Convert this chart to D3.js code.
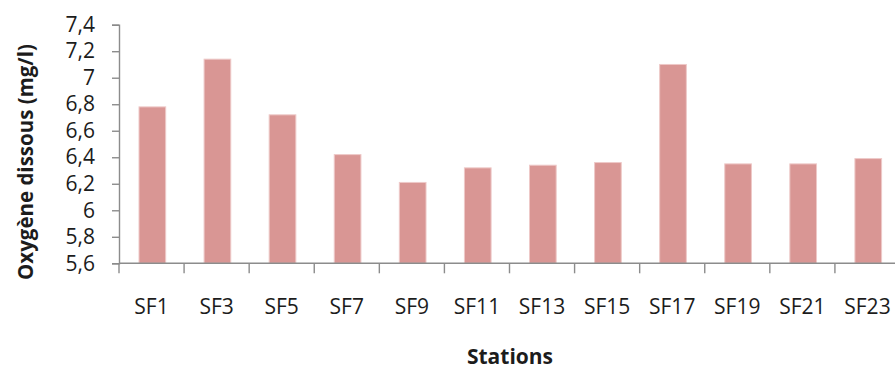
<!DOCTYPE html>
<html>
<head>
<meta charset="utf-8">
<script src="https://cdn.jsdelivr.net/npm/d3@7"></script>
<style>
  html, body { margin: 0; padding: 0; background: #fff; }
  svg { display: block; }
  text { font-family: "Open Sans", "Noto Sans", sans-serif; fill: #1c1c1c; }
</style>
</head>
<body>
<svg id="chart" width="895" height="369"></svg>
<script>
// Dissolved oxygen per station (mg/l)
const stations = ["SF1", "SF3", "SF5", "SF7", "SF9", "SF11", "SF13", "SF15", "SF17", "SF19", "SF21", "SF23"];
const oxygen = [6.78, 7.14, 6.72, 6.42, 6.21, 6.32, 6.34, 6.36, 7.10, 6.35, 6.35, 6.39];
const yTicks = [5.6, 5.8, 6.0, 6.2, 6.4, 6.6, 6.8, 7.0, 7.2, 7.4];
const yTitle = "Oxygène dissous (mg/l)";
const xTitle = "Stations";

const svg = d3.select("#chart");
const plot = { left: 119, right: 900, top: 24.7, bottom: 263.3 };

const x = d3.scaleBand().domain(stations).range([plot.left, plot.right]).padding(0);
const y = d3.scaleLinear().domain([5.6, 7.4]).range([plot.bottom, plot.top]);

const fr = d3.formatLocale({ decimal: ",", thousands: " ", grouping: [3], currency: ["", " €"] });
const fmt = fr.format(".1~f");

// Bars
const barFrac = 0.41;
svg.append("g").selectAll("rect")
  .data(stations.map((s, i) => ({ s, v: oxygen[i] })))
  .join("rect")
  .attr("x", d => x(d.s) + x.bandwidth() * (1 - barFrac) / 2 + 0.8)
  .attr("width", x.bandwidth() * barFrac)
  .attr("y", d => y(d.v))
  .attr("height", d => y(5.6) - y(d.v))
  .attr("fill", "#d99694")
  .attr("stroke", "#eec9c8")
  .attr("stroke-width", 1);

// Y axis
const yAxis = svg.append("g")
  .attr("transform", `translate(${plot.left},0)`)
  .call(d3.axisLeft(y).tickValues(yTicks).tickFormat(fmt).tickSize(7).tickPadding(17));
yAxis.select(".domain").attr("stroke", "#8c8c8c").attr("stroke-width", 1.4);
yAxis.selectAll(".tick line").attr("stroke", "#8c8c8c").attr("stroke-width", 1.4);
yAxis.selectAll(".tick text").attr("font-size", 21).attr("fill", "#1c1c1c")
  .attr("font-family", "Open Sans");

// X axis with ticks at category boundaries
const xAxisG = svg.append("g").attr("transform", `translate(0,${plot.bottom})`);
xAxisG.append("line")
  .attr("x1", plot.left).attr("x2", plot.right)
  .attr("stroke", "#8c8c8c").attr("stroke-width", 1.4);
xAxisG.selectAll("line.bound")
  .data(stations)
  .join("line")
  .attr("class", "bound")
  .attr("x1", d => x(d)).attr("x2", d => x(d))
  .attr("y1", 0).attr("y2", 10)
  .attr("stroke", "#8c8c8c").attr("stroke-width", 1.4);
xAxisG.selectAll("text")
  .data(stations)
  .join("text")
  .attr("x", d => x(d) + x.bandwidth() / 2)
  .attr("y", 51)
  .attr("text-anchor", "middle")
  .attr("font-size", 21)
  .text(d => d);

// Axis titles
svg.append("text")
  .attr("transform", `translate(33,${(33 + 291) / 2}) rotate(-90)`)
  .attr("text-anchor", "middle")
  .attr("font-size", 20.5)
  .attr("font-weight", "bold")
  .text(yTitle);

svg.append("text")
  .attr("x", 510)
  .attr("y", 364)
  .attr("text-anchor", "middle")
  .attr("font-size", 21)
  .attr("font-weight", "bold")
  .text(xTitle);
</script>
</body>
</html>
